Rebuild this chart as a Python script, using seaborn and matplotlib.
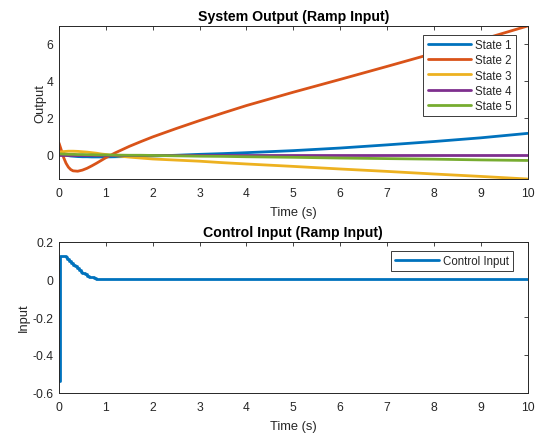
import numpy as np
import pandas as pd
import matplotlib
matplotlib.use("Agg")
import matplotlib.pyplot as plt
import seaborn as sns

# ---------------- data ----------------
t_out = [0, 0.05, 0.1, 0.15, 0.2, 0.25, 0.3, 0.4, 0.5, 0.6, 0.7, 0.8, 0.9, 1.0,
         1.2, 1.5, 1.75, 2, 2.5, 3, 3.5, 4, 5, 6, 7, 8, 9, 10]
state1 = [0.35, 0.20, 0.08, 0.00, -0.04, -0.06, -0.07, -0.09, -0.10, -0.10, -0.11, -0.11,
          -0.11, -0.11, -0.10, -0.09, -0.08, -0.06, -0.02, 0.03, 0.07, 0.12, 0.23, 0.37,
          0.54, 0.72, 0.92, 1.16]
state2 = [0.64, 0.25, -0.15, -0.45, -0.66, -0.79, -0.86, -0.88, -0.82, -0.72, -0.59, -0.45,
          -0.30, -0.15, 0.11, 0.46, 0.72, 0.97, 1.42, 1.85, 2.26, 2.66, 3.38, 4.07,
          4.77, 5.48, 6.20, 6.95]
state3 = [0.15, 0.17, 0.18, 0.19, 0.20, 0.20, 0.20, 0.19, 0.17, 0.15, 0.12, 0.09,
          0.05, 0.02, -0.04, -0.12, -0.17, -0.22, -0.28, -0.34, -0.42, -0.49, -0.62, -0.76,
          -0.89, -1.03, -1.16, -1.30]
state4 = [0.0, 0.0, 0.0, 0.0, 0.0, 0.0, 0.0, 0.0, 0.0, 0.0, 0.0, 0.0,
          0.0, 0.0, 0.0, 0.0, 0.0, 0.0, 0.0, 0.0, 0.0, 0.0, 0.0, 0.0,
          0.0, 0.0, 0.0, 0.0]
state5 = [0.05, 0.05, 0.04, 0.04, 0.03, 0.03, 0.03, 0.02, 0.02, 0.01, 0.01, 0.0,
          0.0, 0.0, -0.01, -0.02, -0.02, -0.03, -0.05, -0.07, -0.08, -0.10, -0.13, -0.17,
          -0.20, -0.23, -0.27, -0.30]
state_names = ["State 1", "State 2", "State 3", "State 4", "State 5"]

t_u = [0, 0.02, 0.06, 0.10, 0.14, 0.18, 0.22, 0.26, 0.30, 0.34, 0.38, 0.42, 0.46,
       0.50, 0.55, 0.60, 0.65, 0.70, 0.75, 0.80, 0.90, 1.0, 10]
u_vals = [-0.54, 0.125, 0.125, 0.125, 0.12, 0.108, 0.097, 0.087, 0.078, 0.068, 0.058,
          0.049, 0.041, 0.034, 0.026, 0.019, 0.014, 0.010, 0.007, 0.004, 0.002, 0.0, 0.0]

x_ticks = list(range(0, 11))
y_ticks_top = [0, 2, 4, 6]
y_ticks_bot = [-0.6, -0.4, -0.2, 0, 0.2]
y_ticklabels_bot = ["-0.6", "-0.4", "-0.2", "0", "0.2"]

colors = ["#0072BD", "#D95319", "#EDB120", "#7E2F8E", "#77AC30"]

# ---------------- style ----------------
sns.set_theme(style="white")
plt.rcParams["font.family"] = ["Liberation Sans", "DejaVu Sans"]
plt.rcParams["axes.unicode_minus"] = False
ink = "#262626"

fig = plt.figure(figsize=(5.35, 4.35), dpi=100)
ax1 = fig.add_axes([0.1103, 0.5862, 0.8757, 0.3517])
ax2 = fig.add_axes([0.1103, 0.0954, 0.8757, 0.3471])

df = pd.DataFrame({
    "t": np.tile(t_out, 5),
    "v": np.concatenate([state1, state2, state3, state4, state5]),
    "s": np.repeat(state_names, len(t_out)),
})
sns.lineplot(data=df, x="t", y="v", hue="s", palette=colors, lw=2.0,
             ax=ax1, sort=False, estimator=None)

du = pd.DataFrame({"t": t_u, "u": u_vals, "s": "Control Input"})
sns.lineplot(data=du, x="t", y="u", hue="s", palette=[colors[0]], lw=2.0,
             ax=ax2, drawstyle="steps-post", sort=False, estimator=None)

allv = np.concatenate([state1, state2, state3, state4, state5])
ax1.set_xlim(0, 10)
ax1.set_ylim(allv.min(), allv.max())
ax1.set_yticks(y_ticks_top)
ax2.set_xlim(0, 10)
ax2.set_ylim(-0.6, 0.2)
ax2.set_yticks(y_ticks_bot)
ax2.set_yticklabels(y_ticklabels_bot)

for ax, title, ylab, ypad in [(ax1, "System Output (Ramp Input)", "Output", 0.5),
                              (ax2, "Control Input (Ramp Input)", "Input", 2)]:
    ax.set_xticks(x_ticks)
    ax.set_title(title, fontsize=10.2, fontweight="bold", color="black", pad=4)
    ax.set_xlabel("Time (s)", fontsize=9.3, color=ink, labelpad=5)
    ax.set_ylabel(ylab, fontsize=9.3, color=ink, labelpad=ypad)
    ax.tick_params(axis="both", direction="in", top=True, right=True, length=3,
                   width=0.6, labelsize=8.7, colors=ink)
    ax.tick_params(axis="x", pad=6)
    ax.tick_params(axis="y", pad=4)
    for sp in ax.spines.values():
        sp.set_color(ink)
        sp.set_linewidth(0.7)

leg_kw = dict(fontsize=8.3, frameon=True, fancybox=False, framealpha=1,
              edgecolor="#3a3a3a", handlelength=3.8, handletextpad=0.35,
              borderpad=0.35, labelspacing=0.28, borderaxespad=0, title=None)
l1 = ax1.legend(loc="upper right", bbox_to_anchor=(0.9755, 0.941), **leg_kw)
l2 = ax2.legend(loc="upper right", bbox_to_anchor=(0.969, 0.937), **leg_kw)
for l in (l1, l2):
    l.get_frame().set_linewidth(0.7)
    for line in l.get_lines():
        line.set_linewidth(2.0)

fig.savefig("out.png", dpi=100)
